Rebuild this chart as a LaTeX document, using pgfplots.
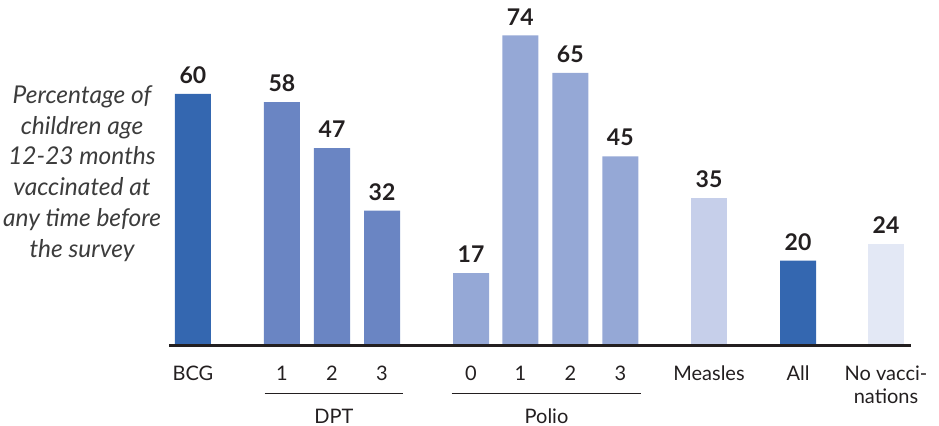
\documentclass[border=0pt]{standalone}
\usepackage{fontspec}
\setmainfont{Lato}
\usepackage{pgfplots}
\pgfplotsset{compat=1.18}
\definecolor{bcg}{HTML}{3467B0}
\definecolor{dpt}{HTML}{6A85C3}
\definecolor{polio}{HTML}{95A8D6}
\definecolor{measles}{HTML}{C6CFEA}
\definecolor{novac}{HTML}{E3E8F5}
\definecolor{ink}{HTML}{231F20}
\definecolor{labelgray}{HTML}{3C3C3C}
\begin{document}
\begin{tikzpicture}
\begin{axis}[
  scale only axis,
  width=741.4pt, height=335.3pt,
  xmin=169.3, xmax=910.7,
  ymin=-0.41, ymax=80,
  axis x line*=bottom,
  axis y line=none,
  x axis line style={-, line width=3.3pt, draw=ink},
  xtick={193,282,332,382,471,520.3,570.3,620.3,709,798,886},
  xticklabels={BCG,1,2,3,0,1,2,3,Measles,All,{No vacci-\\nations}},
  major tick length=0pt,
  xticklabel style={font=\fontsize{20}{23.4}\selectfont, text=ink, align=center,
    anchor=north, inner sep=0pt, yshift=-20pt},
  clip=false,
  nodes near coords,
  /pgf/number format/assume math mode=true,
  every node near coord/.append style={font=\bfseries\fontsize{23}{26}\selectfont,
    text=ink, inner sep=0pt, anchor=south, yshift=10pt},
]
% BCG and All
\addplot[ybar, bar width=36pt, bar shift=0pt, fill=bcg, draw=none]
  coordinates {(193,60) (798,20)};
% DPT 1-3
\addplot[ybar, bar width=36pt, bar shift=0pt, fill=dpt, draw=none]
  coordinates {(282,58) (332,47) (382,32)};
% Polio 0-3
\addplot[ybar, bar width=36pt, bar shift=0pt, fill=polio, draw=none]
  coordinates {(471,17) (520.3,74) (570.3,65) (620.3,45)};
% Measles
\addplot[ybar, bar width=36pt, bar shift=0pt, fill=measles, draw=none]
  coordinates {(709,35)};
% No vaccinations
\addplot[ybar, bar width=36pt, bar shift=0pt, fill=novac, draw=none]
  coordinates {(886,24)};

% group brackets
\draw[ink, line width=1.3pt] (axis cs:264.7,-11.8) -- (axis cs:403.3,-11.8);
\draw[ink, line width=1.3pt] (axis cs:451.7,-11.8) -- (axis cs:640.7,-11.8);
\node[anchor=base, font=\fontsize{20}{24}\selectfont, text=ink, inner sep=0pt]
  at (axis cs:334,-19.0) {DPT};
\node[anchor=base, font=\fontsize{20}{24}\selectfont, text=ink, inner sep=0pt]
  at (axis cs:546.5,-19.0) {Polio};

\node[align=center, font=\itshape\fontsize{24.5}{30.7}\selectfont, text=labelgray, inner sep=0pt]
  at (axis cs:82,40.9) {Percentage of\\children age\\12-23 months\\vaccinated at\\any time before\\the survey};
\end{axis}
\pgfresetboundingbox
\path ([shift={(-169.3pt,-79.3pt)}]current axis.south west)
  rectangle ([shift={(28.3pt,10.4pt)}]current axis.north east);
\end{tikzpicture}
\end{document}
